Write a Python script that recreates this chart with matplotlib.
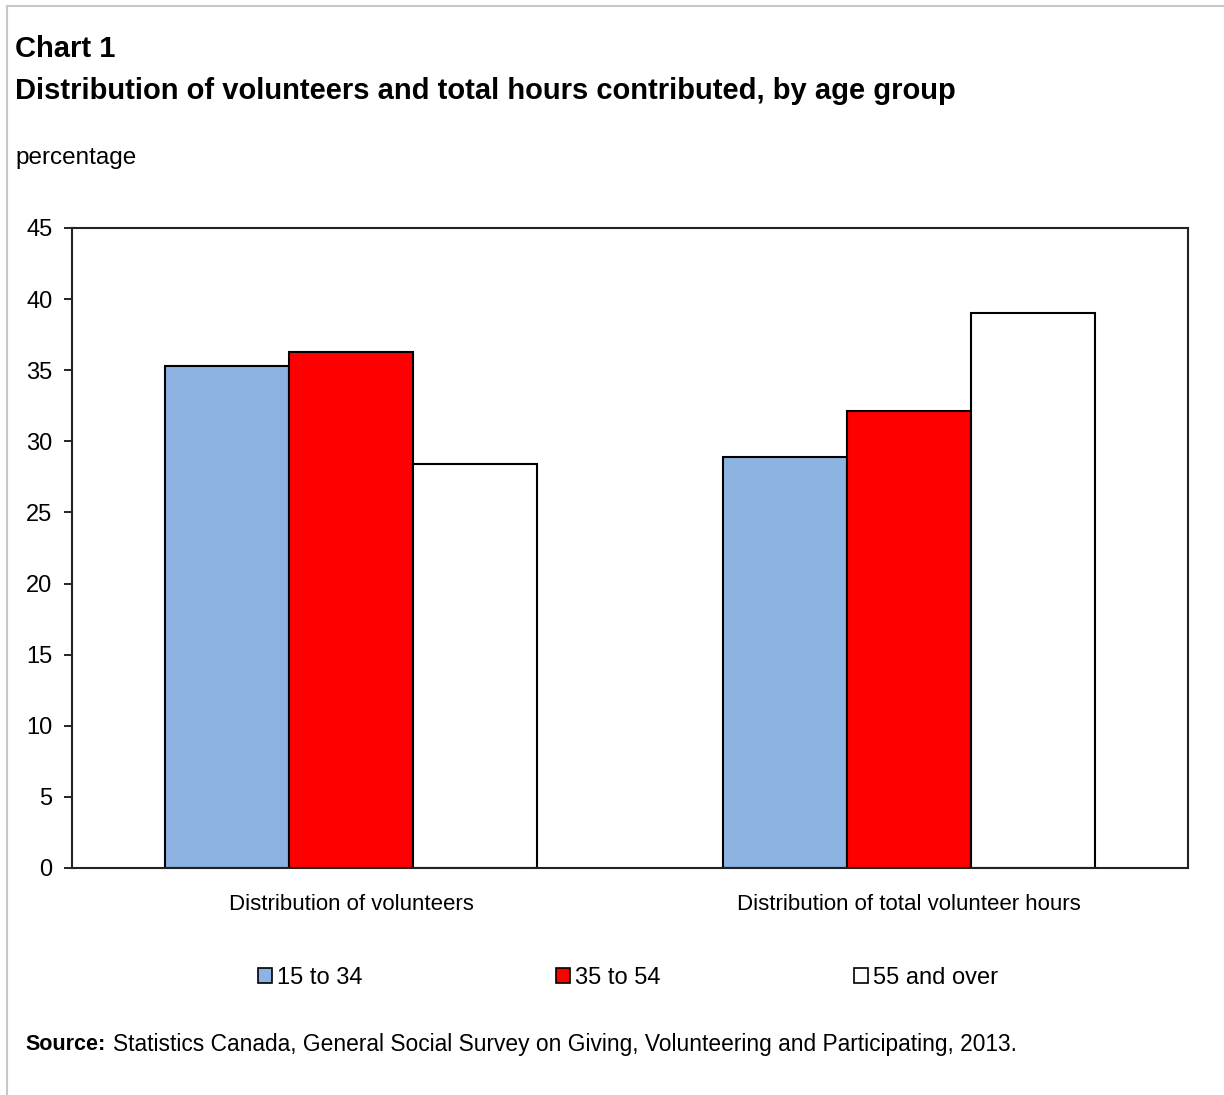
import matplotlib
matplotlib.use("Agg")
import matplotlib.pyplot as plt
from matplotlib.patches import Rectangle
from matplotlib.lines import Line2D
import numpy as np

categories = ["Distribution of volunteers", "Distribution of total volunteer hours"]
series_names = ["15 to 34", "35 to 54", "55 and over"]
age_15_34 = [35.3, 28.9]
age_35_54 = [36.3, 32.1]
age_55_over = [28.4, 39.0]
y_ticks = [0, 5, 10, 15, 20, 25, 30, 35, 40, 45]

colors = ["#8db3e2", "#ff0000", "#ffffff"]
font = ["Liberation Sans Narrow", "Liberation Sans", "DejaVu Sans"]
plt.rcParams["font.family"] = font

fig = plt.figure(figsize=(12.24, 10.95), dpi=100)
W, H = 1224, 1095

# light gray outer frame (top and left)
fig.add_artist(Line2D([7 / W, 7 / W], [0, 1 - 6 / H], color="#c8c8c8", lw=1.5))
fig.add_artist(Line2D([7 / W, 1], [1 - 6 / H, 1 - 6 / H], color="#c8c8c8", lw=1.5))

ax = fig.add_axes([72 / W, 1 - 868 / H, 1116 / W, 640 / H])

x = np.arange(len(categories))
width = 0.222
for i, vals in enumerate([age_15_34, age_35_54, age_55_over]):
    ax.bar(x + (i - 1) * width, vals, width, color=colors[i], edgecolor="black",
           linewidth=1.5, label=series_names[i], zorder=2)

ax.set_xlim(-0.5, 1.5)
ax.set_ylim(0, 45)
ax.set_yticks(y_ticks)
ax.set_yticklabels([str(t) for t in y_ticks], fontsize=17)
ax.set_xticks(x)
ax.set_xticklabels(categories, fontsize=16)
ax.tick_params(axis="x", length=0, pad=19)
ax.tick_params(axis="y", direction="out", length=6, width=1.2, pad=8)
for s in ax.spines.values():
    s.set_linewidth(1.5)
    s.set_color("#222222")

fig.text(15 / W, 1 - 49 / H, "Chart 1", fontsize=21, fontweight="bold", va="center", ha="left")
fig.text(15 / W, 1 - 91 / H, "Distribution of volunteers and total hours contributed, by age group",
         fontsize=21, fontweight="bold", va="center", ha="left")
fig.text(15 / W, 1 - 158 / H, "percentage", fontsize=17.5, va="center", ha="left")

handles = [Rectangle((0, 0), 1, 1, facecolor=c, edgecolor="black", linewidth=1.2) for c in colors]
fig.legend(handles, series_names, loc="center", bbox_to_anchor=(628 / W, 1 - 978 / H),
           ncol=3, frameon=False, fontsize=17, handlelength=0.6, handleheight=0.6,
           handletextpad=0.2, columnspacing=8.2)

fig.text(25 / W, 1 - 1044 / H, "Source:", fontsize=15.5, fontweight="bold", va="center", ha="left")
fig.text(113 / W, 1 - 1044 / H,
         "Statistics Canada, General Social Survey on Giving, Volunteering and Participating, 2013.",
         fontsize=16.4, va="center", ha="left")

fig.savefig("out.png", dpi=100)
